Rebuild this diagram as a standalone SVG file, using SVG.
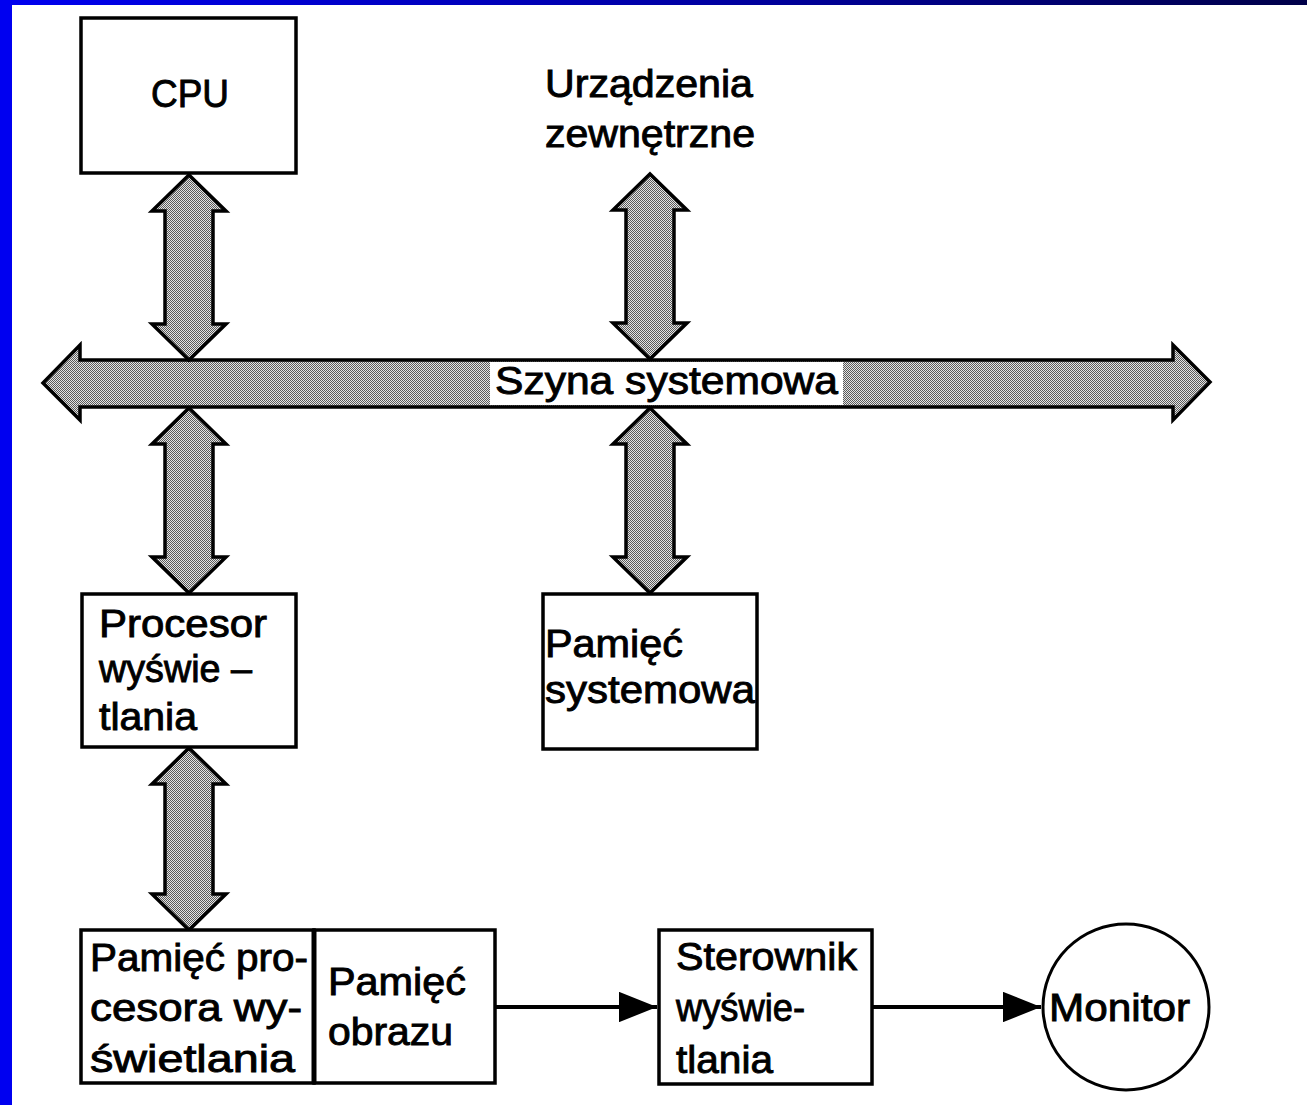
<svg xmlns="http://www.w3.org/2000/svg" width="1307" height="1105" viewBox="0 0 1307 1105">
  <defs>
    <!-- fine dither used for the bus and link arrows -->
    <pattern id="dither" width="2" height="2" patternUnits="userSpaceOnUse">
      <rect width="2" height="2" fill="#e4e4e4"/>
      <rect width="1" height="1" fill="#5a5a5a"/>
      <rect x="1" y="1" width="1" height="1" fill="#5a5a5a"/>
    </pattern>
    <linearGradient id="topbar" x1="0" y1="0" x2="1" y2="0">
      <stop offset="0" stop-color="#0000f0"/>
      <stop offset="0.6" stop-color="#00009a"/>
      <stop offset="1" stop-color="#000048"/>
    </linearGradient>
    <marker id="head" viewBox="0 0 10 8" refX="10" refY="4" markerWidth="9.5" markerHeight="7.6" markerUnits="strokeWidth" orient="auto">
      <path d="M0,0 L10,4 L0,8 Z" fill="#000"/>
    </marker>
    <style>
      .box { fill: #fff; stroke: #000; stroke-width: 3.5; }
      .bus { fill: url(#dither); stroke: #000; stroke-width: 3.5; stroke-linejoin: miter; }
      .link { fill: none; stroke: #000; stroke-width: 4; marker-end: url(#head); }
      text { font-family: "Liberation Sans", Arial, "DejaVu Sans", sans-serif; font-size: 38px; fill: #000; stroke: #000; stroke-width: 0.9; }
    </style>
  </defs>

  <!-- page -->
  <rect width="1307" height="1105" fill="#fff"/>
  <rect x="0" y="0" width="1307" height="5" fill="url(#topbar)"/>
  <rect x="0" y="0" width="12" height="1105" fill="#0000f0"/>

  <!-- connectors -->
  <g id="connectors">
    <!-- system bus -->
    <polygon class="bus" points="43,383 80,345 80,360 1173,360 1173,345 1210,382 1173,420 1173,407 80,407 80,420"/>
    <rect x="490" y="362" width="353" height="43" fill="#fff"/>
    <text x="495" y="394" font-size="40" textLength="343" lengthAdjust="spacingAndGlyphs">Szyna systemowa</text>

    <!-- CPU <-> bus -->
    <polygon class="bus" points="189,175 226,211 213,211 213,324 226,324 189,360 152,324 165,324 165,211 152,211"/>
    <!-- external devices <-> bus -->
    <polygon class="bus" points="650,174 687,210 674,210 674,323 687,323 650,359 613,323 626,323 626,210 613,210"/>
    <!-- bus <-> display processor -->
    <polygon class="bus" points="189,408 226,444 213,444 213,557 226,557 189,593 152,557 165,557 165,444 152,444"/>
    <!-- bus <-> system memory -->
    <polygon class="bus" points="650,408 687,444 674,444 674,557 687,557 650,593 613,557 626,557 626,444 613,444"/>
    <!-- display processor <-> its memory -->
    <polygon class="bus" points="189,748 226,784 213,784 213,894 226,894 189,930 152,894 165,894 165,784 152,784"/>

    <!-- video path -->
    <line class="link" x1="495" y1="1007" x2="657" y2="1007"/>
    <line class="link" x1="873" y1="1007" x2="1041" y2="1007"/>
  </g>

  <g id="cpu">
    <rect class="box" x="81" y="18" width="215" height="155"/>
    <text x="151" y="107" textLength="78" lengthAdjust="spacingAndGlyphs">CPU</text>
  </g>

  <g id="external-devices">
    <text x="545" y="97" textLength="208" lengthAdjust="spacingAndGlyphs">Urządzenia</text>
    <text x="545" y="147" textLength="210" lengthAdjust="spacingAndGlyphs">zewnętrzne</text>
  </g>

  <g id="display-processor">
    <rect class="box" x="82" y="594" width="214" height="153"/>
    <text x="99" y="637" textLength="168" lengthAdjust="spacingAndGlyphs">Procesor</text>
    <text x="99" y="682" textLength="153" lengthAdjust="spacingAndGlyphs">wyświe –</text>
    <text x="99" y="730" textLength="98" lengthAdjust="spacingAndGlyphs">tlania</text>
  </g>

  <g id="system-memory">
    <rect class="box" x="543" y="594" width="214" height="155"/>
    <text x="545" y="657" textLength="138" lengthAdjust="spacingAndGlyphs">Pamięć</text>
    <text x="545" y="703" textLength="210" lengthAdjust="spacingAndGlyphs">systemowa</text>
  </g>

  <g id="processor-memory">
    <rect class="box" x="81" y="930" width="233" height="153"/>
    <text x="90" y="971" textLength="218" lengthAdjust="spacingAndGlyphs">Pamięć pro-</text>
    <text x="90" y="1021" textLength="212" lengthAdjust="spacingAndGlyphs">cesora wy-</text>
    <text x="90" y="1072" textLength="205" lengthAdjust="spacingAndGlyphs">świetlania</text>
  </g>

  <g id="frame-buffer">
    <rect class="box" x="314" y="930" width="181" height="153"/>
    <line x1="314" y1="930" x2="314" y2="1083" stroke="#000" stroke-width="5"/>
    <text x="328" y="995" textLength="138" lengthAdjust="spacingAndGlyphs">Pamięć</text>
    <text x="328" y="1045" textLength="125" lengthAdjust="spacingAndGlyphs">obrazu</text>
  </g>

  <g id="display-controller">
    <rect class="box" x="659" y="930" width="213" height="154"/>
    <text x="676" y="970" textLength="181" lengthAdjust="spacingAndGlyphs">Sterownik</text>
    <text x="676" y="1021" textLength="129" lengthAdjust="spacingAndGlyphs">wyświe-</text>
    <text x="676" y="1073" textLength="97" lengthAdjust="spacingAndGlyphs">tlania</text>
  </g>

  <g id="monitor">
    <circle cx="1126" cy="1007" r="83" fill="#fff" stroke="#000" stroke-width="3"/>
    <text x="1049" y="1021" textLength="141" lengthAdjust="spacingAndGlyphs">Monitor</text>
  </g>
</svg>
